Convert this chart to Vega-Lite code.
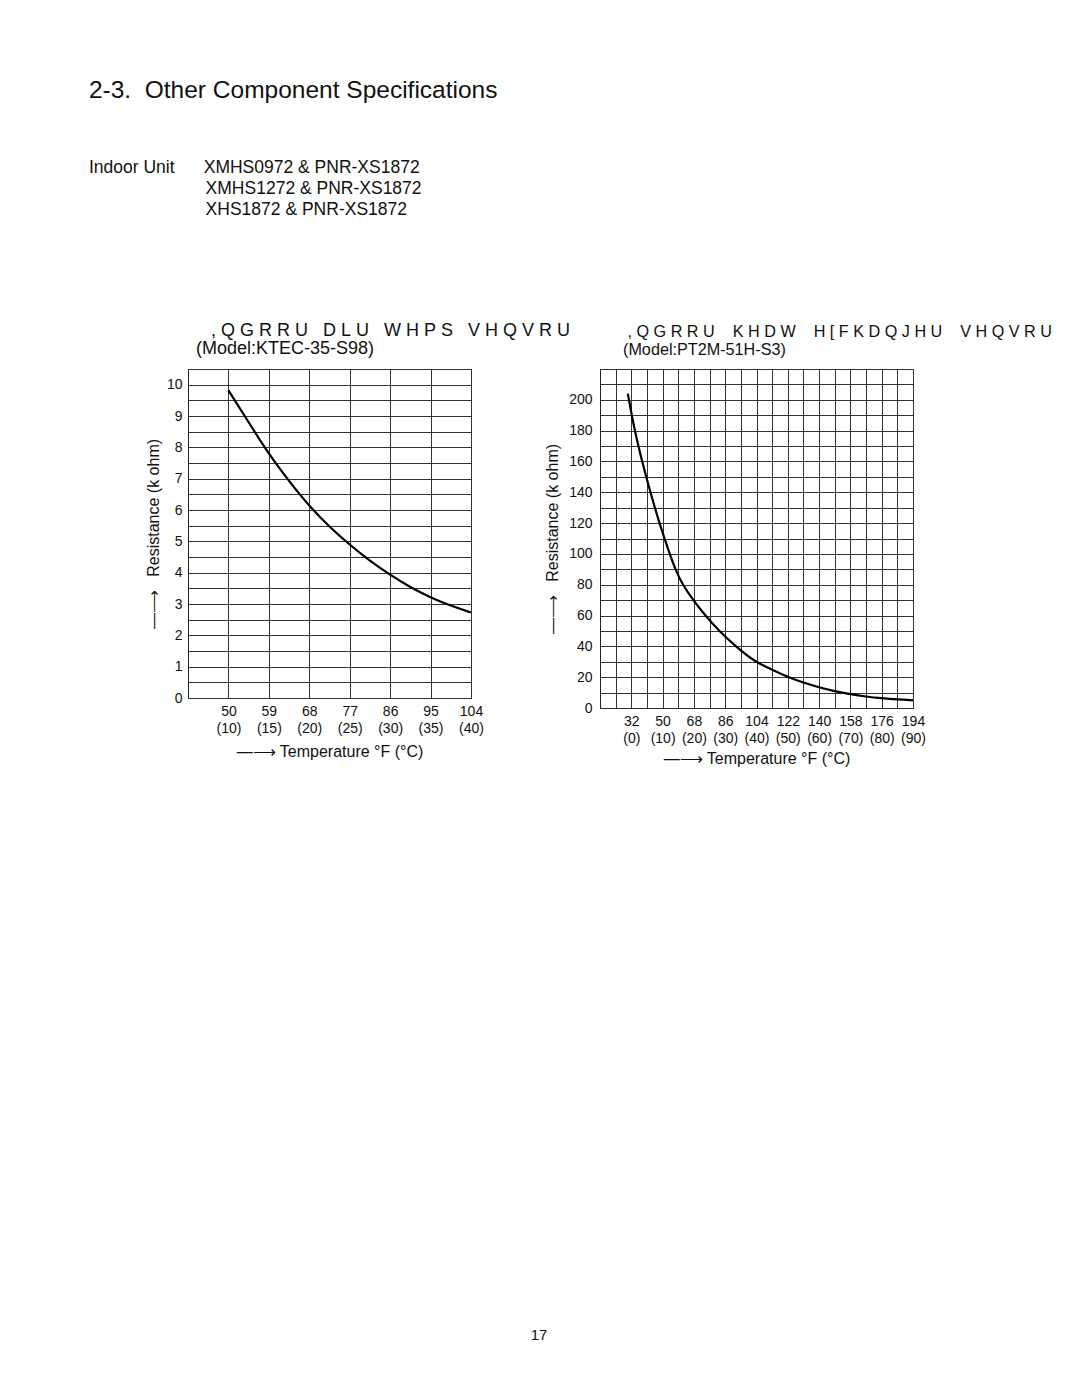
{
  "$schema": "https://vega.github.io/schema/vega-lite/v6.json",
  "background": "white",
  "padding": {"left": 88, "top": 77, "right": 5, "bottom": 5},
  "config": {
    "font": "Liberation Sans",
    "view": {"stroke": "#222", "strokeWidth": 1},
    "axis": {
      "labelFont": "Liberation Sans", "labelFontSize": 14, "labelColor": "#111",
      "titleFont": "Liberation Sans", "titleFontSize": 16, "titleFontWeight": "normal", "titleColor": "#111",
      "domain": false, "ticks": false, "grid": true, "gridColor": "#333", "gridWidth": 1, "gridOpacity": 1,
      "labelFlush": false, "labelOverlap": false, "labelPadding": 6
    },
    "title": {"font": "Liberation Sans", "fontWeight": "normal", "color": "#111"}
  },
  "datasets": {
    "indoor_air": [
      {"temp_f": 50, "resistance_kohm": 9.82},
      {"temp_f": 54.5, "resistance_kohm": 8.8},
      {"temp_f": 59, "resistance_kohm": 7.78},
      {"temp_f": 63.5, "resistance_kohm": 6.92},
      {"temp_f": 68, "resistance_kohm": 6.12},
      {"temp_f": 72.5, "resistance_kohm": 5.46},
      {"temp_f": 77, "resistance_kohm": 4.89},
      {"temp_f": 81.5, "resistance_kohm": 4.37},
      {"temp_f": 86, "resistance_kohm": 3.93},
      {"temp_f": 90.5, "resistance_kohm": 3.53},
      {"temp_f": 95, "resistance_kohm": 3.21},
      {"temp_f": 99.5, "resistance_kohm": 2.94},
      {"temp_f": 104, "resistance_kohm": 2.73}
    ],
    "heat_exchanger": [
      {"temp_f": 30, "resistance_kohm": 204},
      {"temp_f": 33.7, "resistance_kohm": 181},
      {"temp_f": 38.4, "resistance_kohm": 159},
      {"temp_f": 43.2, "resistance_kohm": 139},
      {"temp_f": 48.4, "resistance_kohm": 119},
      {"temp_f": 53.8, "resistance_kohm": 101},
      {"temp_f": 57.3, "resistance_kohm": 90},
      {"temp_f": 61.5, "resistance_kohm": 80},
      {"temp_f": 67.6, "resistance_kohm": 70},
      {"temp_f": 74.5, "resistance_kohm": 60},
      {"temp_f": 82.5, "resistance_kohm": 50},
      {"temp_f": 92, "resistance_kohm": 40},
      {"temp_f": 103, "resistance_kohm": 30},
      {"temp_f": 113, "resistance_kohm": 24.8},
      {"temp_f": 122, "resistance_kohm": 20.1},
      {"temp_f": 131, "resistance_kohm": 16.4},
      {"temp_f": 140, "resistance_kohm": 13.4},
      {"temp_f": 149, "resistance_kohm": 10.8},
      {"temp_f": 158, "resistance_kohm": 8.9},
      {"temp_f": 167, "resistance_kohm": 7.4},
      {"temp_f": 176, "resistance_kohm": 6.3},
      {"temp_f": 185, "resistance_kohm": 5.5},
      {"temp_f": 194, "resistance_kohm": 5.0}
    ]
  },
  "title": {
    "text": "2-3.\u00a0 Other Component Specifications",
    "subtitle": [
      "Indoor Unit\u00a0\u00a0\u00a0\u00a0\u00a0\u00a0XMHS0972 & PNR-XS1872",
      "\u200b\u00a0\u00a0\u00a0\u00a0\u00a0\u00a0\u00a0\u00a0\u00a0\u00a0\u00a0\u00a0\u00a0\u00a0\u00a0\u00a0\u00a0\u00a0\u00a0\u00a0\u00a0\u00a0\u00a0\u00a0XMHS1272 & PNR-XS1872",
      "\u200b\u00a0\u00a0\u00a0\u00a0\u00a0\u00a0\u00a0\u00a0\u00a0\u00a0\u00a0\u00a0\u00a0\u00a0\u00a0\u00a0\u00a0\u00a0\u00a0\u00a0\u00a0\u00a0\u00a0\u00a0XHS1872 & PNR-XS1872"
    ],
    "anchor": "start",
    "dx": -56,
    "fontSize": 24.5,
    "subtitleFont": "Liberation Sans",
    "subtitleFontSize": 17.5,
    "subtitleColor": "#111",
    "subtitleLineHeight": 20.7,
    "subtitlePadding": 56,
    "offset": 102
  },
  "spacing": 558,
  "vconcat": [
    {
      "bounds": "flush",
      "spacing": 129,
      "hconcat": [
        {
          "width": 283,
          "height": 329,
          "title": {
            "text": [
              "\u200b\u00a0\u00a0\u00a0,\u00a0Q\u00a0G\u00a0R\u00a0R\u00a0U\u00a0\u00a0\u00a0D\u00a0L\u00a0U\u00a0\u00a0\u00a0W\u00a0H\u00a0P\u00a0S\u00a0\u00a0\u00a0V\u00a0H\u00a0Q\u00a0V\u00a0R\u00a0U",
              "(Model:KTEC-35-S98)"
            ],
            "anchor": "start", "frame": "group", "dx": 8, "fontSize": 18, "lineHeight": 18.3, "offset": 4
          },
          "data": {"name": "indoor_air"},
          "mark": {"type": "line", "color": "black", "strokeWidth": 2.2, "interpolate": "basis"},
          "encoding": {
            "x": {
              "field": "temp_f", "type": "quantitative",
              "scale": {"domain": [41, 104], "nice": false, "zero": false},
              "axis": {
                "values": [50, 59, 68, 77, 86, 95, 104],
                "labelExpr": "[format(datum.value, 'd'), '(' + format((datum.value - 32) / 1.8, 'd') + ')']",
                "labelLineHeight": 17,
                "title": "—⟶ Temperature °F (°C)",
                "titlePadding": 8
              }
            },
            "y": {
              "field": "resistance_kohm", "type": "quantitative",
              "scale": {"domain": [0, 10.5], "nice": false},
              "axis": {
                "values": [0, 0.5, 1, 1.5, 2, 2.5, 3, 3.5, 4, 4.5, 5, 5.5, 6, 6.5, 7, 7.5, 8, 8.5, 9, 9.5, 10, 10.5],
                "labelExpr": "datum.value % 1 === 0 ? format(datum.value, 'd') : ''",
                "title": "—⟶\u00a0\u00a0\u00a0Resistance (k ohm)",
                "titlePadding": 5
              }
            }
          }
        },
        {
          "width": 313,
          "height": 339,
          "title": {
            "text": [
              "\u200b\u00a0,\u00a0Q\u00a0G\u00a0R\u00a0R\u00a0U\u00a0\u00a0\u00a0\u00a0K\u00a0H\u00a0D\u00a0W\u00a0\u00a0\u00a0\u00a0H\u00a0[\u00a0F\u00a0K\u00a0D\u00a0Q\u00a0J\u00a0H\u00a0U\u00a0\u00a0\u00a0\u00a0V\u00a0H\u00a0Q\u00a0V\u00a0R\u00a0U",
              "(Model:PT2M-51H-S3)"
            ],
            "anchor": "start", "frame": "group", "dx": 23, "fontSize": 16.2, "lineHeight": 18.3, "offset": 4
          },
          "data": {"name": "heat_exchanger"},
          "mark": {"type": "line", "color": "black", "strokeWidth": 2.2, "interpolate": "basis"},
          "encoding": {
            "x": {
              "field": "temp_f", "type": "quantitative",
              "scale": {"domain": [14, 194], "nice": false, "zero": false},
              "axis": {
                "values": [23, 32, 41, 50, 59, 68, 77, 86, 95, 104, 113, 122, 131, 140, 149, 158, 167, 176, 185, 194],
                "labelExpr": "(datum.value - 32) % 18 === 0 ? [format(datum.value, 'd'), '(' + format((datum.value - 32) / 1.8, 'd') + ')'] : ''",
                "labelLineHeight": 17,
                "title": "—⟶ Temperature °F (°C)",
                "titlePadding": 5
              }
            },
            "y": {
              "field": "resistance_kohm", "type": "quantitative",
              "scale": {"domain": [0, 220], "nice": false},
              "axis": {
                "values": [0, 10, 20, 30, 40, 50, 60, 70, 80, 90, 100, 110, 120, 130, 140, 150, 160, 170, 180, 190, 200, 210, 220],
                "labelExpr": "datum.value % 20 === 0 && datum.value <= 200 ? format(datum.value, 'd') : ''",
                "labelPadding": 8,
                "title": "—⟶\u00a0\u00a0\u00a0Resistance (k ohm)",
                "titlePadding": 8
              }
            }
          }
        }
      ]
    },
    {
      "width": 702,
      "height": 20,
      "view": {"stroke": null},
      "data": {"values": [{"page": "17"}]},
      "mark": {"type": "text", "fontSize": 15, "font": "Liberation Sans", "color": "#111"},
      "encoding": {"text": {"field": "page", "type": "nominal"}}
    }
  ]
}
